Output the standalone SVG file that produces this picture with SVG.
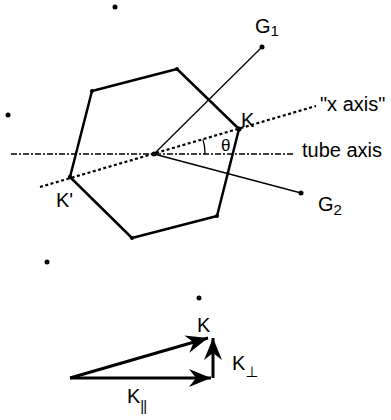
<svg xmlns="http://www.w3.org/2000/svg" width="391" height="420" viewBox="0 0 391 420">
<style>
.lbl{font-family:"Liberation Sans",Arial,sans-serif;font-size:20px;fill:#000}
.sub{font-size:15px}
.hex{fill:none;stroke:#000;stroke-width:2.5;stroke-linejoin:round}
.thin{stroke:#000;stroke-width:1.3;fill:none}
.dot{fill:#000}
.vec{stroke:#000;stroke-width:3;fill:none}
</style>
<defs>
<marker id="ah" markerUnits="userSpaceOnUse" markerWidth="26" markerHeight="22" viewBox="-24 -11 26 22" refX="0" refY="0" orient="auto">
<path d="M0,0 L-22,-9 L-15,0 L-22,9 Z" fill="#000"/>
</marker>
</defs>
<rect width="391" height="420" fill="#fff"/>
<g id="lattice">
<circle class="dot" cx="115" cy="7" r="2.5"/>
<circle class="dot" cx="8" cy="115" r="2.5"/>
<circle class="dot" cx="47" cy="262" r="2.5"/>
<circle class="dot" cx="199" cy="298" r="2.5"/>
</g>
<g id="axes">
<line x1="11" y1="154" x2="293" y2="154" stroke="#000" stroke-width="1.3" stroke-dasharray="6,2,2,2"/>
<line x1="40" y1="187" x2="316" y2="106" stroke="#000" stroke-width="2.2" stroke-dasharray="3,2.5"/>
<path class="thin" d="M205,154 A51,51 0 0 0 203,139.5"/>
</g>
<g id="hexagon">
<polygon class="hex" points="177,69 92,91 70,177 132,238 217,216 239,129"/>
<circle class="dot" cx="177" cy="69" r="2"/>
<circle class="dot" cx="92" cy="91" r="2"/>
<circle class="dot" cx="70" cy="177" r="2.2"/>
<circle class="dot" cx="132" cy="238" r="2"/>
<circle class="dot" cx="217" cy="216" r="2"/>
<circle class="dot" cx="239" cy="129" r="2.5"/>
<circle class="dot" cx="154" cy="154" r="2.5"/>
</g>
<g id="connectors">
<line class="thin" x1="154" y1="154" x2="262" y2="47"/>
<line class="thin" x1="154" y1="154" x2="301" y2="193"/>
<circle class="dot" cx="262" cy="47" r="2.5"/>
<circle class="dot" cx="301" cy="193" r="2.5"/>
</g>
<g id="labels">
<text class="lbl" x="255" y="33">G<tspan class="sub" dy="3">1</tspan></text>
<text class="lbl" x="318" y="211">G<tspan class="sub" dy="4">2</tspan></text>
<text class="lbl" x="320" y="111">"x axis"</text>
<text class="lbl" x="302" y="157">tube axis</text>
<text class="lbl" x="241" y="127">K</text>
<text class="lbl" x="56" y="207">K'</text>
<text class="lbl" x="221" y="151" style="font-size:17px">θ</text>
</g>
<g id="vectors">
<line class="vec" x1="70" y1="378" x2="211" y2="378" marker-end="url(#ah)"/>
<line class="vec" x1="70" y1="378" x2="208" y2="338" marker-end="url(#ah)"/>
<line class="vec" x1="213" y1="378" x2="213" y2="338" marker-end="url(#ah)"/>
<text class="lbl" x="197" y="332">K</text>
<text class="lbl" x="232" y="370">K<tspan dy="7" font-size="15" font-family="DejaVu Sans" fill="#000">⊥</tspan></text>
<text class="lbl" x="127" y="403">K<tspan dy="8" font-size="15" font-family="Liberation Sans" letter-spacing="-1" fill="#000">||</tspan></text>
</g>
</svg>
